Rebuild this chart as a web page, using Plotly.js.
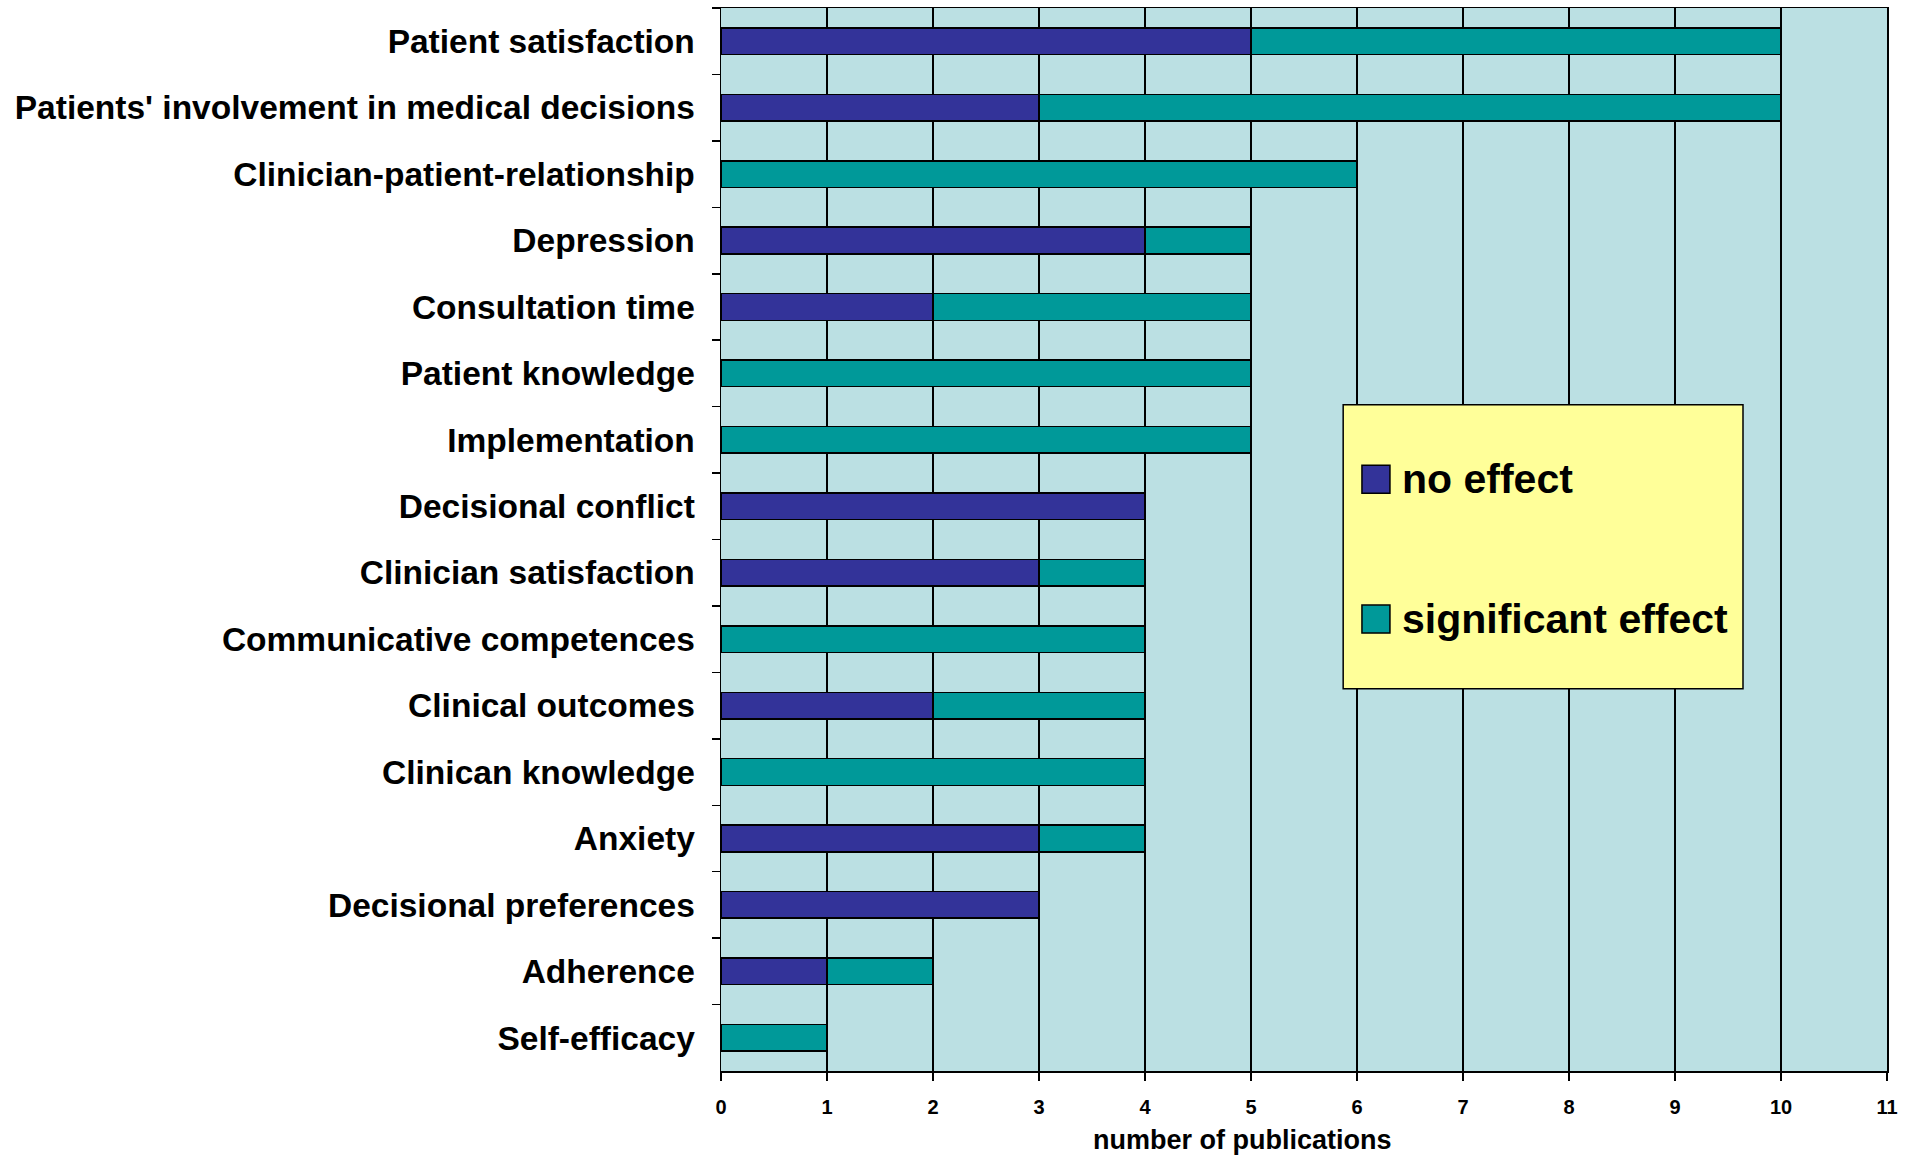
<!DOCTYPE html>
<html>
<head>
<meta charset="utf-8">
<script src="https://cdn.plot.ly/plotly-3.0.1.min.js"></script>
<style>html,body{margin:0;padding:0;background:#fff;}#chart{width:1915px;height:1156px;}</style>
</head>
<body>
<div id="chart"></div>
<script>
const categories = [
  "Patient satisfaction",
  "Patients' involvement in medical decisions",
  "Clinician-patient-relationship",
  "Depression",
  "Consultation time",
  "Patient knowledge",
  "Implementation",
  "Decisional conflict",
  "Clinician satisfaction",
  "Communicative competences",
  "Clinical outcomes",
  "Clinican knowledge",
  "Anxiety",
  "Decisional preferences",
  "Adherence",
  "Self-efficacy"
];
const noEffect          = [5, 3, 0, 4, 2, 0, 0, 4, 3, 0, 2, 0, 3, 3, 1, 0];
const significantEffect = [5, 7, 6, 1, 3, 5, 5, 0, 1, 4, 2, 4, 1, 0, 1, 1];
const seriesNames = ["no effect", "significant effect"];
const seriesColors = ["#333399", "#009999"];
const xTickValues = [0,1,2,3,4,5,6,7,8,9,10,11];
const xAxisTitle = "number of publications";

const FONT = "Liberation Sans, Arial, sans-serif";
const lineStyle = {color: "#000000", width: 1.5};

const traces = [
  {type: "bar", orientation: "h", name: seriesNames[0], y: categories, x: noEffect,
   marker: {color: seriesColors[0], line: lineStyle}, hoverinfo: "x+y+name"},
  {type: "bar", orientation: "h", name: seriesNames[1], y: categories, x: significantEffect,
   marker: {color: seriesColors[1], line: lineStyle}, hoverinfo: "x+y+name"}
];

// legend box (drawn manually to get large swatches)
const legendBox = {x0: 0.5336, x1: 0.8765, y0: 0.3595, y1: 0.6268};
const swatchX = 0.5497;
const swatchYs = [0.5566, 0.4251];
const textX = 0.5825;

const shapes = [
  {type: "rect", xref: "paper", yref: "paper", x0: legendBox.x0, x1: legendBox.x1,
   y0: legendBox.y0, y1: legendBox.y1, fillcolor: "#FFFF99", line: {color: "#000", width: 1.5}, layer: "above"}
];
const annotations = [];
seriesNames.forEach((nm, i) => {
  shapes.push({type: "rect", xref: "paper", yref: "paper", xsizemode: "pixel", ysizemode: "pixel",
    xanchor: swatchX, yanchor: swatchYs[i], x0: 0, x1: 28, y0: -14, y1: 14,
    fillcolor: seriesColors[i], line: {color: "#000", width: 1.5}, layer: "above"});
  annotations.push({xref: "paper", yref: "paper", x: textX, y: swatchYs[i], xanchor: "left", yanchor: "middle",
    text: nm, showarrow: false, font: {family: FONT, size: 41, color: "#000", weight: "bold"}});
});
annotations.push({xref: "paper", yref: "paper", x: 0.4472, y: -0.0645, xanchor: "center", yanchor: "middle",
  text: xAxisTitle, showarrow: false, font: {family: FONT, size: 27, color: "#000", weight: "bold"}});

const layout = {
  width: 1915, height: 1156,
  margin: {l: 721, r: 28, t: 8, b: 85, pad: 0},
  paper_bgcolor: "#ffffff",
  plot_bgcolor: "#BBE0E3",
  barmode: "stack",
  bargap: 0.6,
  showlegend: false,
  xaxis: {
    range: [0, 11], tickvals: xTickValues, ticks: "outside", ticklen: 8, tickwidth: 1.5, tickcolor: "#000",
    showgrid: true, gridcolor: "#000", gridwidth: 1.5, zeroline: false,
    showline: true, linecolor: "#000", linewidth: 1.5, mirror: true,
    tickfont: {family: FONT, size: 20, color: "#000", weight: "bold"}, ticklabelstandoff: 9,
    fixedrange: true
  },
  yaxis: {
    type: "category", categoryorder: "array", categoryarray: categories, autorange: "reversed",
    ticks: "outside", tickson: "boundaries", ticklen: 8, tickwidth: 1.5, tickcolor: "#000",
    showgrid: false, showline: true, linecolor: "#000", linewidth: 1.5, mirror: true,
    tickfont: {family: FONT, size: 33.5, color: "#000", weight: "bold"}, ticklabelstandoff: 18,
    fixedrange: true
  },
  shapes: shapes,
  annotations: annotations
};

Plotly.newPlot("chart", traces, layout, {displayModeBar: false, staticPlot: true});
</script>
</body>
</html>
